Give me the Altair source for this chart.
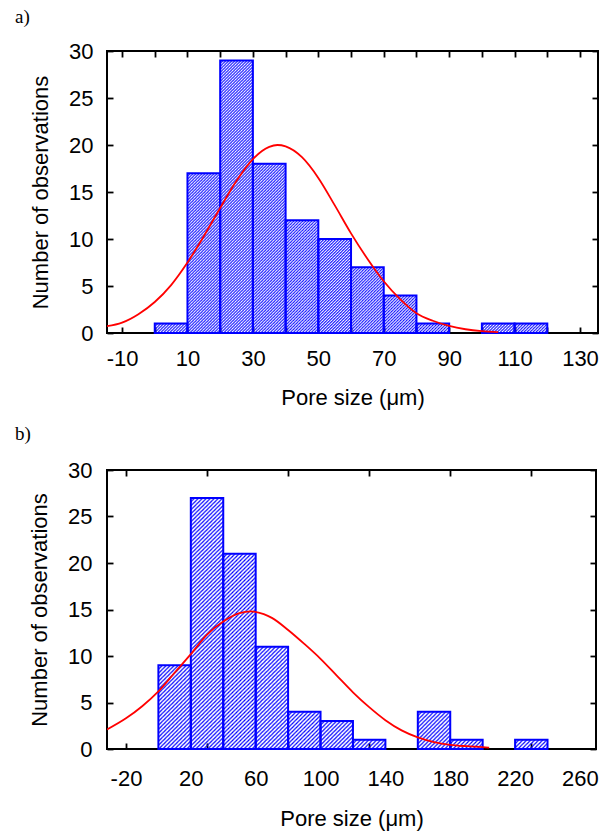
import base64
import altair as alt
import pandas as pd

# ---------------- Panel a) data ----------------
a_bin_start = [0, 10, 20, 30, 40, 50, 60, 70, 80, 90, 100, 110]
a_bin_end = [10, 20, 30, 40, 50, 60, 70, 80, 90, 100, 110, 120]
a_counts = [1, 17, 29, 18, 12, 10, 7, 4, 1, 0, 1, 1]
a_curve_x = [-15, -10, -5, 0, 5, 10, 15, 20, 25, 30, 35, 37.5, 40, 45, 50, 55,
             60, 65, 70, 75, 80, 85, 90, 95, 100, 105]
a_curve_y = [0.7, 1.1, 2.0, 3.3, 5.1, 7.5, 10.3, 13.3, 16.2, 18.5, 19.8, 20.0,
             19.85, 18.7, 16.5, 13.6, 10.6, 7.9, 5.5, 3.6, 2.1, 1.3, 0.75, 0.4,
             0.2, 0.1]
a_tick_values = [-10, 0, 10, 20, 30, 40, 50, 60, 70, 80, 90, 100, 110, 120, 130]
a_x_domain = [-14.6, 135.5]

# ---------------- Panel b) data ----------------
b_bin_start = [0, 20, 40, 60, 80, 100, 120, 140, 160, 180, 200, 220]
b_bin_end = [20, 40, 60, 80, 100, 120, 140, 160, 180, 200, 220, 240]
b_counts = [9, 27, 21, 11, 4, 3, 1, 0, 4, 1, 0, 1]
b_curve_x = [-31.7, -20, -10, 0, 10, 20, 30, 40, 50, 57, 65, 70, 80, 90, 100,
             110, 120, 130, 140, 150, 160, 170, 180, 190, 200, 204]
b_curve_y = [2.1, 3.3, 4.6, 6.2, 8.2, 10.2, 12.3, 13.7, 14.6, 14.8, 14.5, 14.1,
             12.8, 11.3, 9.7, 7.9, 6.1, 4.5, 3.1, 2.0, 1.25, 0.75, 0.45, 0.3,
             0.2, 0.15]
b_tick_values = [-20, 30, 80, 130, 180, 230]
b_label_values = [-20, 20, 60, 100, 140, 180, 220, 260]
b_x_domain = [-31.7, 269.9]

y_values = [0, 5, 10, 15, 20, 25, 30]
y_domain = [0, 30]

X_TITLE = "Pore size (\u03bcm)"
Y_TITLE = "Number of observations"
BLUE = "#0000ff"
RED = "#ff0000"


def hatch_uri(p, w):
    svg = (
        "<svg xmlns='http://www.w3.org/2000/svg' width='100%' height='100%'>"
        f"<defs><pattern id='h' width='{p}' height='{p}' patternUnits='userSpaceOnUse'>"
        f"<path d='M0,{p} L{p},0 M-1,1 L1,-1 M{p-1},{p+1} L{p+1},{p-1}' "
        f"stroke='{BLUE}' stroke-width='{w}'/></pattern></defs>"
        "<rect width='100%' height='100%' fill='url(#h)'/></svg>"
    )
    return "data:image/svg+xml;base64," + base64.b64encode(svg.encode()).decode()


INWARD = {"expr": "-6"}


def panel(label, starts, ends, counts, cx, cy, x_domain, bottom_values,
          label_test, tick_test, top_values, width, height, uri,
          x_label_pad, x_title_pad, y_label_pad, y_title_pad, title_offset):
    bars = pd.DataFrame({"start": starts, "end": ends, "count": counts})
    bars["zero"] = 0
    bars = bars[bars["count"] > 0]
    curve = pd.DataFrame({"px": cx, "py": cy})

    xs = alt.Scale(domain=x_domain, nice=False, zero=False)
    ys = alt.Scale(domain=y_domain, nice=False)

    bottom_axis_kwargs = dict(
        orient="bottom",
        values=bottom_values,
        labelExpr=f"({label_test}) ? ('' + datum.value) : ''",
        title=X_TITLE,
        tickSize=INWARD,
        labelPadding=x_label_pad,
        titlePadding=x_title_pad,
        labelOverlap=False,
        labelFlush=False,
    )
    if tick_test is not None:
        bottom_axis_kwargs["tickOpacity"] = {
            "condition": {"test": tick_test, "value": 1}, "value": 0}

    hatch = alt.Chart(bars).mark_image(aspect=False).encode(
        x=alt.X("start:Q", scale=xs, axis=alt.Axis(**bottom_axis_kwargs)),
        x2="end",
        y=alt.Y("count:Q", scale=ys, axis=alt.Axis(
            orient="left", values=y_values, title=Y_TITLE, tickSize=INWARD,
            labelPadding=y_label_pad, titlePadding=y_title_pad,
            labelOverlap=False, labelFlush=False)),
        y2="zero",
        url=alt.value(uri),
    )

    outline = alt.Chart(bars).mark_rect(
        fillOpacity=0, stroke=BLUE, strokeWidth=2
    ).encode(
        x=alt.X("start:Q", scale=xs, axis=None),
        x2="end",
        y=alt.Y("count:Q", scale=ys, axis=None),
        y2="zero",
    )

    line = alt.Chart(curve).mark_line(
        color=RED, strokeWidth=1.8, interpolate="monotone", clip=True
    ).encode(
        x=alt.X("px:Q", scale=xs, axis=alt.Axis(
            orient="top", values=top_values, labels=False, title=None,
            tickSize=INWARD)),
        y=alt.Y("py:Q", scale=ys, axis=alt.Axis(
            orient="right", values=y_values, labels=False, title=None,
            tickSize=INWARD)),
    )

    return alt.layer(hatch, outline, line).resolve_axis(
        x="independent", y="independent"
    ).properties(
        width=width, height=height,
        title=alt.TitleParams(label, anchor="start", frame="group", dx=-92,
                              offset=title_offset, baseline="alphabetic"),
    )


panel_a = panel(
    "a)", a_bin_start, a_bin_end, a_counts, a_curve_x, a_curve_y, a_x_domain,
    a_tick_values, "(datum.value + 10) % 20 == 0", None, a_tick_values,
    491, 282, hatch_uri(3, 1), 21, 18, 20, 16, -2)

b_bottom_values = sorted(set(b_tick_values + b_label_values))
panel_b = panel(
    "b)", b_bin_start, b_bin_end, b_counts, b_curve_x, b_curve_y, b_x_domain,
    b_bottom_values, "(datum.value + 20) % 40 == 0",
    "(datum.value + 20) % 50 == 0", b_tick_values,
    489, 279, hatch_uri(4, 1.2), 25, 19, 21, 16, 0)

chart = alt.vconcat(panel_a, panel_b, spacing=15).properties(
    padding={"left": 14, "top": 7, "right": 5, "bottom": 5},
    background="white",
).configure_view(
    stroke="black", strokeWidth=2
).configure_axis(
    labelFont="Liberation Sans", titleFont="Liberation Sans",
    labelFontSize=22, titleFontSize=22, labelColor="black",
    titleColor="black", titleFontWeight="normal", tickColor="black",
    tickWidth=1.8, domain=False, grid=False,
).configure_title(
    font="Liberation Serif", fontSize=19, fontWeight="normal", color="black"
)

chart.save("out.html", embed_options={"renderer": "svg", "actions": False})
